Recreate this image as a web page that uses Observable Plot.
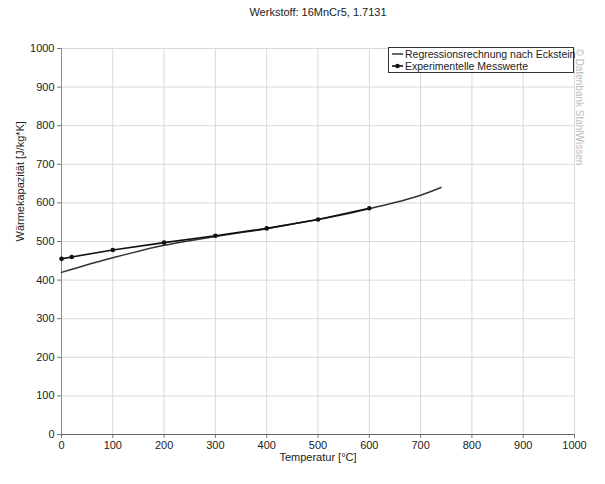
<!DOCTYPE html>
<html><head><meta charset="utf-8">
<script src="https://cdn.jsdelivr.net/npm/d3@7"></script>
<script src="https://cdn.jsdelivr.net/npm/@observablehq/plot@0.6"></script>
<style>
body{margin:0;background:#fff;}
svg{font-family:"Liberation Sans",Arial,sans-serif;}
</style>
</head><body><div id="chart"></div>
<script>
const title = "Werkstoff: 16MnCr5, 1.7131";
const xLabel = "Temperatur [°C]";
const yLabel = "Wärmekapazität [J/kg*K]";
const watermark = "© Datenbank StahlWissen";
const legendLabels = ["Regressionsrechnung nach Eckstein", "Experimentelle Messwerte"];
const expTemp = [0, 20, 100, 200, 300, 400, 500, 600];
const expCp = [455, 460, 478, 497, 515, 534, 557, 586];
const regTemp = [0, 50, 100, 150, 200, 250, 300, 350, 400, 450, 500, 550, 600, 650, 700, 740];
const regCp = [420, 440, 458, 475, 490, 502, 513, 523, 533, 545, 557, 570, 585, 601, 620, 640];
const xTicks = [0, 100, 200, 300, 400, 500, 600, 700, 800, 900, 1000];
const yTicks = [0, 100, 200, 300, 400, 500, 600, 700, 800, 900, 1000];

const exp = expTemp.map((t, i) => ({t, cp: expCp[i]}));
const reg = regTemp.map((t, i) => ({t, cp: regCp[i]}));
const fmt = d => String(d);

const chart = Plot.plot({
  width: 605, height: 484,
  marginLeft: 61, marginRight: 31, marginTop: 48, marginBottom: 50,
  style: {fontSize: "11px", color: "#222", background: "#fff"},
  x: {domain: [0, 1000], ticks: xTicks, label: null, tickFormat: fmt},
  y: {domain: [0, 1000], ticks: yTicks, label: null, tickFormat: fmt},
  marks: [
    Plot.gridX(xTicks, {stroke: "#d9d9d9", strokeOpacity: 1}),
    Plot.gridY(yTicks, {stroke: "#d9d9d9", strokeOpacity: 1}),
    Plot.axisX(xTicks, {tickSize: 4, tickPadding: 3, stroke: "#777", fill: "#222", tickFormat: fmt}),
    Plot.axisY(yTicks, {tickSize: 4, tickPadding: 3, stroke: "#777", fill: "#222", tickFormat: fmt}),
    Plot.ruleX([0], {stroke: "#888"}),
    Plot.ruleY([0], {stroke: "#666"}),
    Plot.line(reg, {x: "t", y: "cp", stroke: "#333", strokeWidth: 1.5, curve: "natural"}),
    Plot.line(exp, {x: "t", y: "cp", stroke: "#111", strokeWidth: 1.6}),
    Plot.dot(exp, {x: "t", y: "cp", r: 2.3, fill: "#111", stroke: "none"}),
    Plot.text([title], {frameAnchor: "top", dy: -40, fill: "#222"}),
    Plot.text([xLabel], {frameAnchor: "bottom", dy: 26, fill: "#222"}),
    Plot.text([yLabel], {frameAnchor: "left", dx: -41, rotate: -90, fill: "#222"}),
    Plot.text([watermark], {frameAnchor: "top-right", dx: 9, dy: 0, rotate: 90, textAnchor: "start", fill: "#bbb", fontSize: 10})
  ]
});

// legend box
const svg = d3.select(chart);
const g = svg.append("g").attr("font-size", 10.5).attr("fill", "#222").attr("text-anchor", "start");
g.append("rect").attr("x", 388.5).attr("y", 47.5).attr("width", 185).attr("height", 25)
  .attr("fill", "#fff").attr("stroke", "#333");
g.append("line").attr("x1", 392).attr("x2", 403).attr("y1", 54).attr("y2", 54).attr("stroke", "#333").attr("stroke-width", 1.5);
g.append("text").attr("x", 405).attr("y", 54).attr("dy", "0.35em").text(legendLabels[0]);
g.append("line").attr("x1", 392).attr("x2", 403).attr("y1", 66).attr("y2", 66).attr("stroke", "#111").attr("stroke-width", 1.6);
g.append("circle").attr("cx", 397.5).attr("cy", 66).attr("r", 2.3).attr("fill", "#111");
g.append("text").attr("x", 405).attr("y", 66).attr("dy", "0.35em").text(legendLabels[1]);

document.getElementById("chart").append(chart);
</script>
</body></html>
